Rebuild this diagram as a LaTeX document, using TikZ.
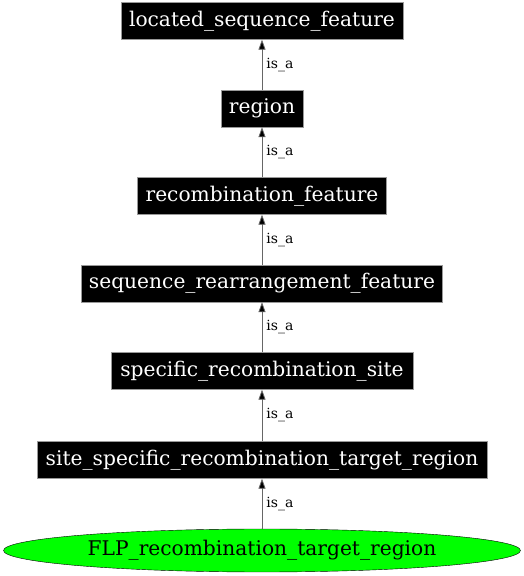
\documentclass[tikz,border=0pt]{standalone}
\usepackage{fontspec}
\setmainfont{DejaVu Serif}
\usetikzlibrary{arrows.meta,shapes.geometric}
\begin{document}
\begin{tikzpicture}[x=1pt,y=1pt,
  termbox/.style={rectangle,fill=black,draw=black!40,text=white,font=\fontsize{20.2}{22}\selectfont,minimum height=37pt,inner sep=0pt},
  leaf/.style={ellipse,fill=green,draw=black,font=\fontsize{20.2}{22}\selectfont,minimum width=517pt,minimum height=43pt,inner sep=0pt},
  isa/.style={draw=black!60,line width=0.8pt,-{Triangle[length=10pt,width=7pt,fill=black]}},
  lbl/.style={font=\fontsize{14}{16}\selectfont,anchor=west,inner sep=0pt}]
\useasboundingbox (0,0) rectangle (524,576);
\node[termbox,minimum width=282pt] (lsf) at (262,555) {located\_sequence\_feature};
\node[termbox,minimum width=82pt] (reg) at (262,467.5) {region};
\node[termbox,minimum width=249pt] (rf) at (262,380) {recombination\_feature};
\node[termbox,minimum width=361pt] (srf) at (262,292.5) {sequence\_rearrangement\_feature};
\node[termbox,minimum width=302pt] (srs) at (262,205) {specific\_recombination\_site};
\node[termbox,minimum width=450pt] (ssr) at (262,116) {site\_specific\_recombination\_target\_region};
\node[leaf] (flp) at (262,25.5) {FLP\_recombination\_target\_region};
\draw[isa] (reg) -- node[lbl,xshift=4pt]{is\_a} (lsf);
\draw[isa] (rf) -- node[lbl,xshift=4pt]{is\_a} (reg);
\draw[isa] (srf) -- node[lbl,xshift=4pt]{is\_a} (rf);
\draw[isa] (srs) -- node[lbl,xshift=4pt]{is\_a} (srf);
\draw[isa] (ssr) -- node[lbl,xshift=4pt]{is\_a} (srs);
\draw[isa] (flp) -- node[lbl,xshift=4pt]{is\_a} (ssr);
\end{tikzpicture}
\end{document}
